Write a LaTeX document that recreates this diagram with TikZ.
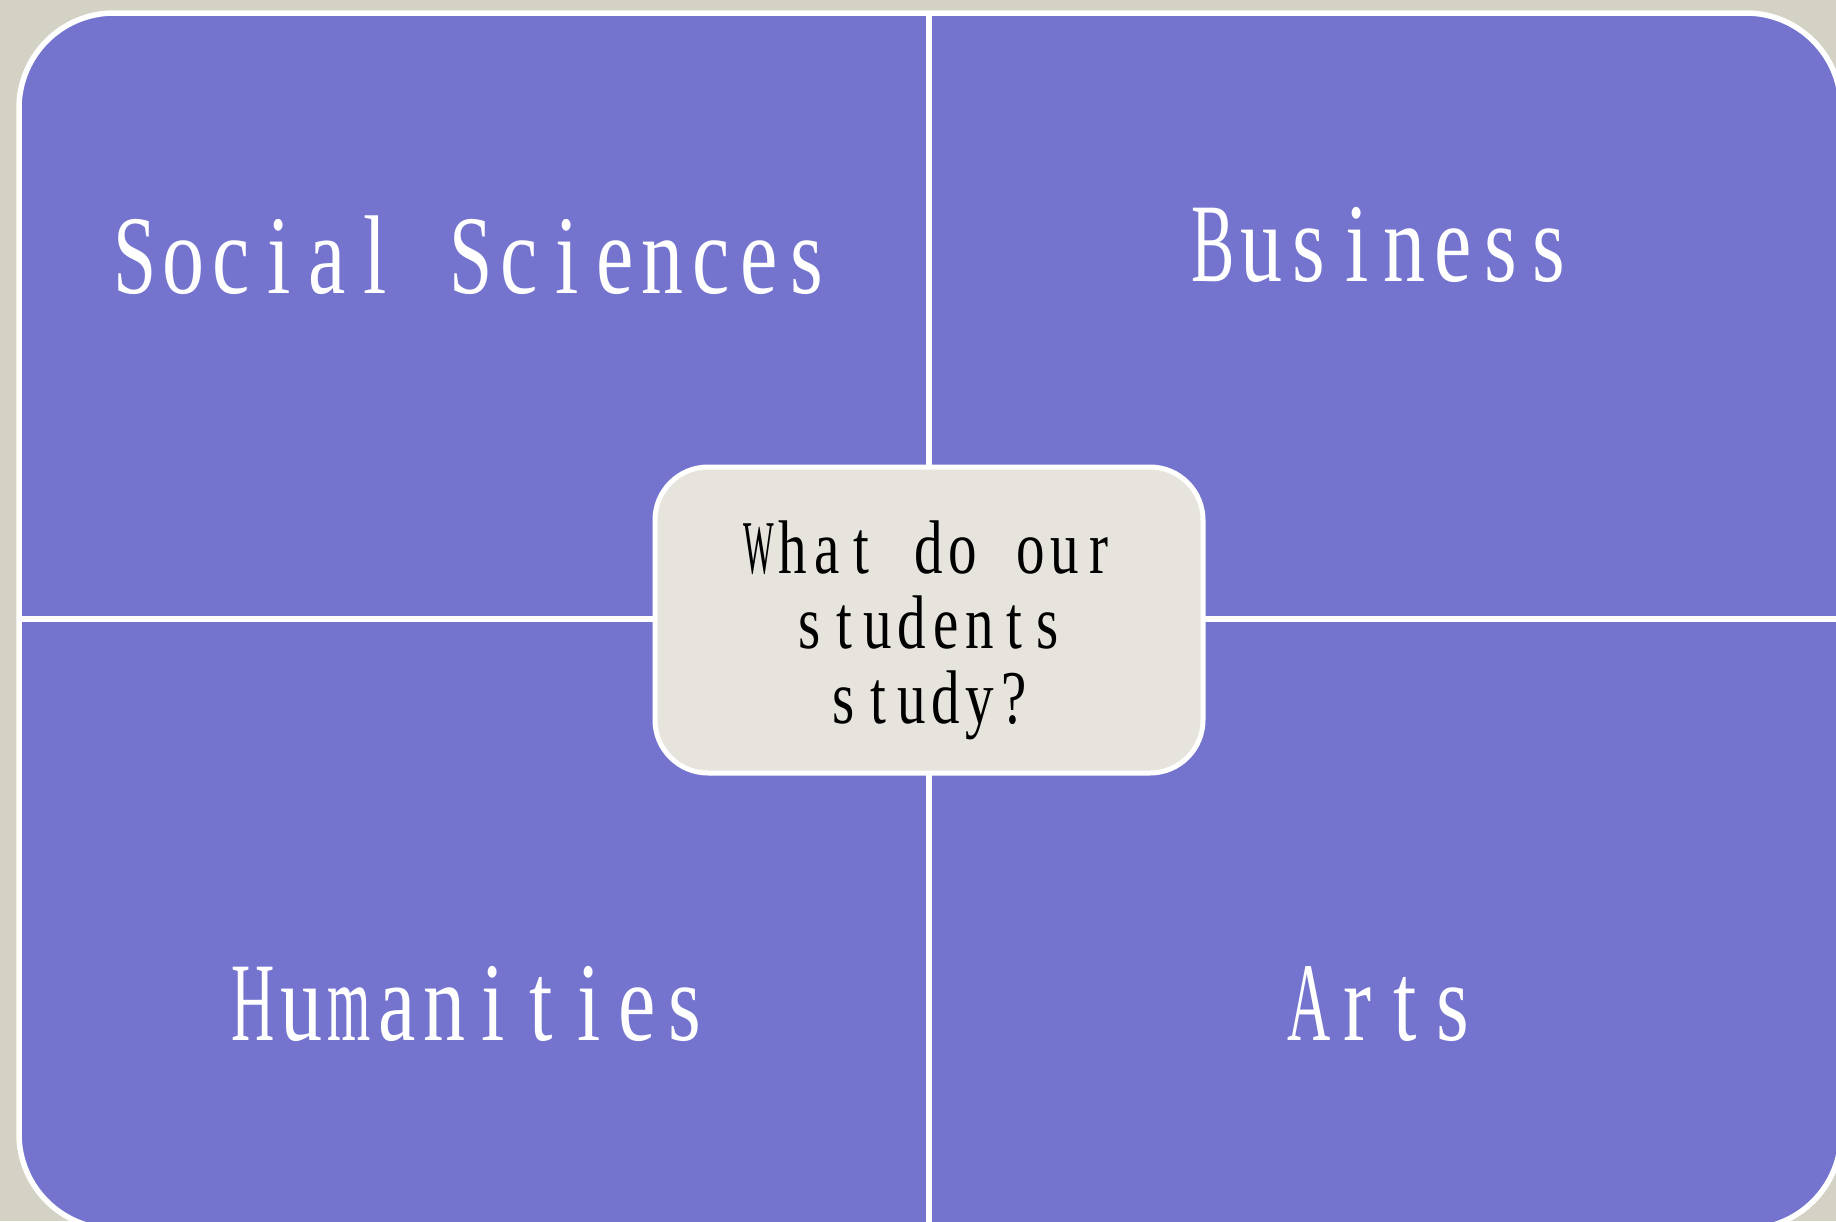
\documentclass[tikz,border=0pt]{standalone}
\usepackage{fontspec}
\setmainfont{Liberation Serif}[FakeStretch=0.75]
\ExplSyntaxOn
\box_new:N \l_mono_char_box
\dim_new:N \l_mono_cell_dim
\NewDocumentCommand\monotext{mm}{
  \dim_set:Nn \l_mono_cell_dim {#1}
  \str_map_inline:nn {#2}{
    \hbox_set:Nn \l_mono_char_box {##1}
    \dim_compare:nNnT {\box_wd:N \l_mono_char_box} > {0.9\l_mono_cell_dim}
      { \box_scale:Nnn \l_mono_char_box { \fp_eval:n { 0.9 * \l_mono_cell_dim / \box_wd:N \l_mono_char_box } } {1} }
    \hbox_to_wd:nn {\l_mono_cell_dim} {\hfil \box_use:N \l_mono_char_box \hfil}
  }
}
\ExplSyntaxOff
\definecolor{bgc}{RGB}{212,210,196}
\definecolor{quadc}{RGB}{116,116,207}
\definecolor{boxc}{RGB}{230,228,220}
\tikzset{
  quadlabel/.style={anchor=base, text=white, inner sep=0pt, font=\fontsize{112}{112}\selectfont},
  centerbox/.style={draw=white, line width=5pt, fill=boxc, rounded corners=53pt,
    minimum width=548pt, minimum height=306pt, inner sep=0pt},
  centertext/.style={align=center, text=black, inner sep=0pt, font=\fontsize{76}{75}\selectfont},
  divider/.style={draw=white, line width=6pt}
}
\begin{document}
\begin{tikzpicture}[x=1pt,y=-1pt]
\useasboundingbox (0,0) rectangle (1836,1221);
\clip (0,0) rectangle (1836,1221);
\fill[bgc] (0,0) rectangle (1836,1221);
\draw[fill=quadc, draw=white, line width=5.5pt, rounded corners=95pt] (19,13) rectangle (1841,1229);
\coordinate (vt) at (929,13);
\coordinate (vb) at (929,1229);
\coordinate (hl) at (19,619);
\coordinate (hr) at (1841,619);
\path[divider] (vt) -- (vb);
\path[divider] (hl) -- (hr);
\node[centerbox] (center) at (929,620) {};
\node[centertext] (ctext) at (929,630) {\monotext{34pt}{What do our}\\\monotext{34pt}{students}\\\monotext{34pt}{study?}};
\node[quadlabel] (social) at (471,293) {\monotext{48pt}{Social Sciences}};
\node[quadlabel] (business) at (1381,281) {\monotext{48pt}{Business}};
\node[quadlabel] (human) at (469,1040) {\monotext{48pt}{Humanities}};
\node[quadlabel] (arts) at (1381,1040) {\monotext{48pt}{Arts}};
\end{tikzpicture}
\end{document}
